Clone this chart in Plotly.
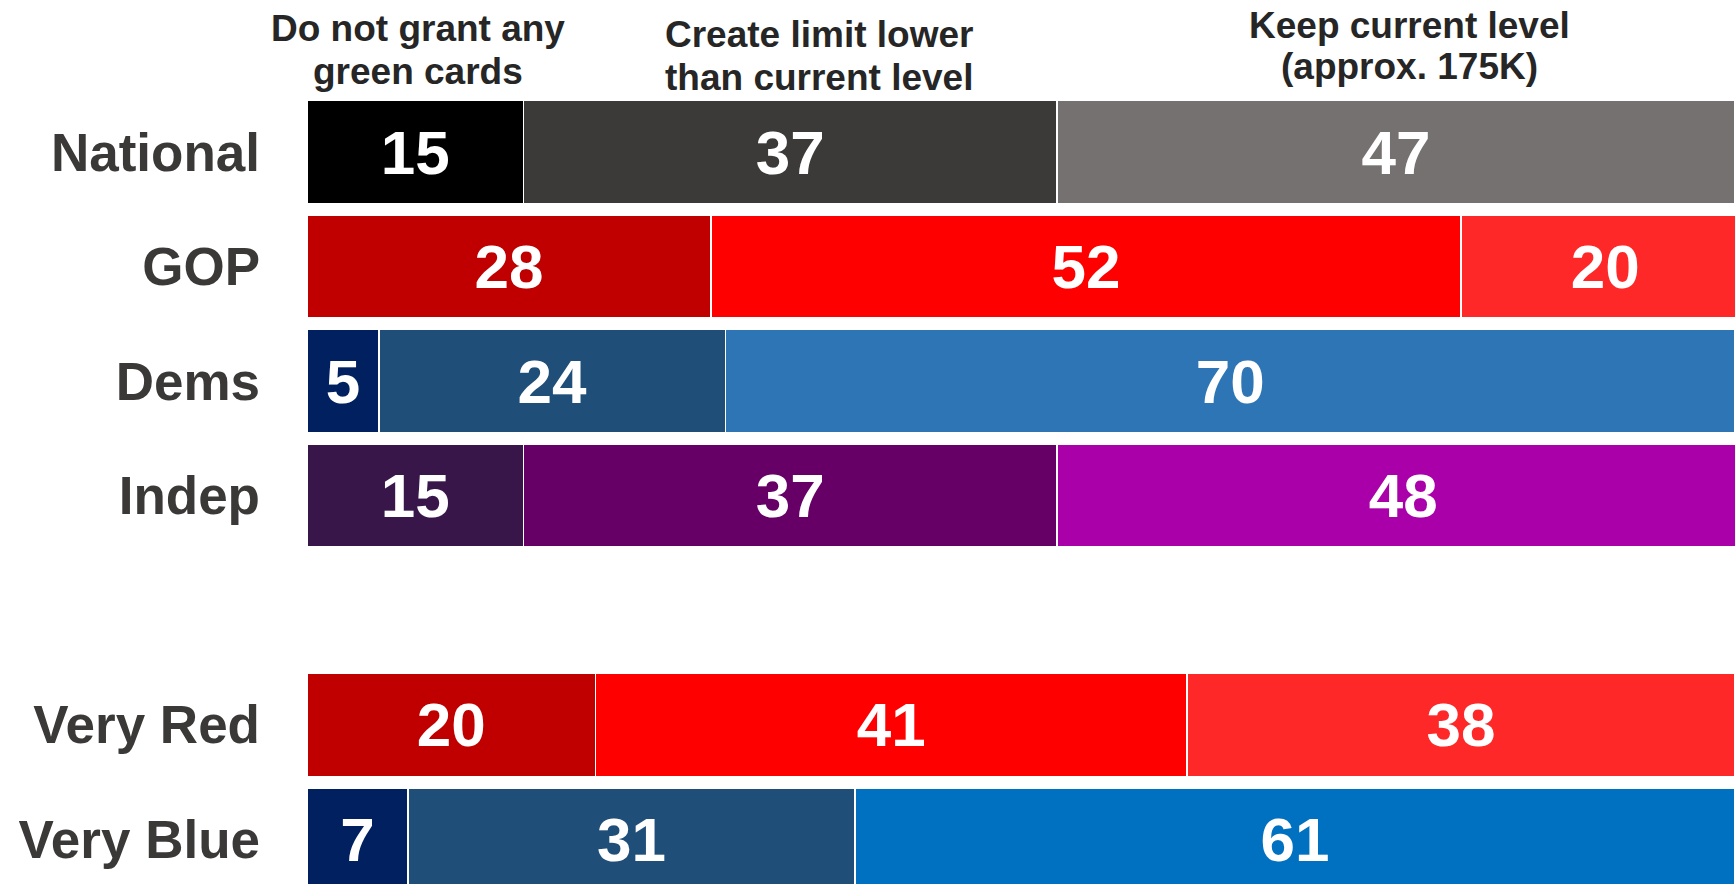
import plotly.graph_objects as go

# ---- data ----
groups = ["National", "GOP", "Dems", "Indep", "Very Red", "Very Blue"]
category_order = ["National", "GOP", "Dems", "Indep", " ", "Very Red", "Very Blue"]
do_not_grant = [15, 28, 5, 15, 20, 7]
lower_limit = [37, 52, 24, 37, 41, 31]
keep_current = [47, 20, 70, 48, 38, 61]

colors_do_not = ["#000000", "#C00000", "#002060", "#38164A", "#C00000", "#002060"]
colors_lower = ["#3C3A39", "#FF0000", "#1F4E79", "#660066", "#FF0000", "#1F4E79"]
colors_keep = ["#767171", "#FF2828", "#2E75B6", "#AA00AA", "#FF2828", "#0070C0"]

header_lines = [
    ["Do not grant any", "green cards"],
    ["Create limit lower", "than current level"],
    ["Keep current level", "(approx. 175K)"],
]

FONT = "Liberation Sans, Arial, sans-serif"
W, H = 1735, 884
L = 307
X_MAX = 99.0

fig = go.Figure()
for vals, cols in [(do_not_grant, colors_do_not), (lower_limit, colors_lower), (keep_current, colors_keep)]:
    fig.add_trace(go.Bar(
        y=groups, x=vals, orientation="h",
        marker=dict(color=cols, line=dict(color="#FFFFFF", width=1.5)),
        width=0.9,
        text=[str(v) for v in vals],
        textposition="inside",
        insidetextanchor="middle",
        constraintext="none",
        textfont=dict(family=FONT, size=62, color="#FFFFFF", weight="bold"),
        showlegend=False,
        hoverinfo="skip",
    ))

# header annotations (two lines each)
header_x = [7.72, 35.5, 76.4]
header_y = [(29, 71), (35, 77), (25, 67)]
for (l1, l2), hx, (y1, y2) in zip(header_lines, header_x, header_y):
    for txt, py in [(l1, y1), (l2, y2)]:
        fig.add_annotation(
            x=hx, xref="x", y=1 - py / H, yref="paper",
            text=txt, showarrow=False, xanchor="center", yanchor="middle",
            font=dict(family=FONT, size=37, color="#262626", weight="bold"),
        )

fig.update_layout(
    barmode="stack",
    width=W, height=H,
    margin=dict(l=L, r=0, t=0, b=0),
    paper_bgcolor="white", plot_bgcolor="white",
    xaxis=dict(range=[0, X_MAX], visible=False, fixedrange=True),
    yaxis=dict(
        type="category",
        categoryorder="array", categoryarray=category_order,
        range=[6.39, -1.327],
        showgrid=False, zeroline=False, showline=False,
        ticks="", ticklabelstandoff=46,
        tickfont=dict(family=FONT, size=53, color="#3B3838", weight="bold"),
        fixedrange=True,
    ),
)

fig.write_html(
    "out.html",
    config={"displayModeBar": False},
    post_script="document.body.style.margin='0';document.body.style.overflow='hidden';",
)
